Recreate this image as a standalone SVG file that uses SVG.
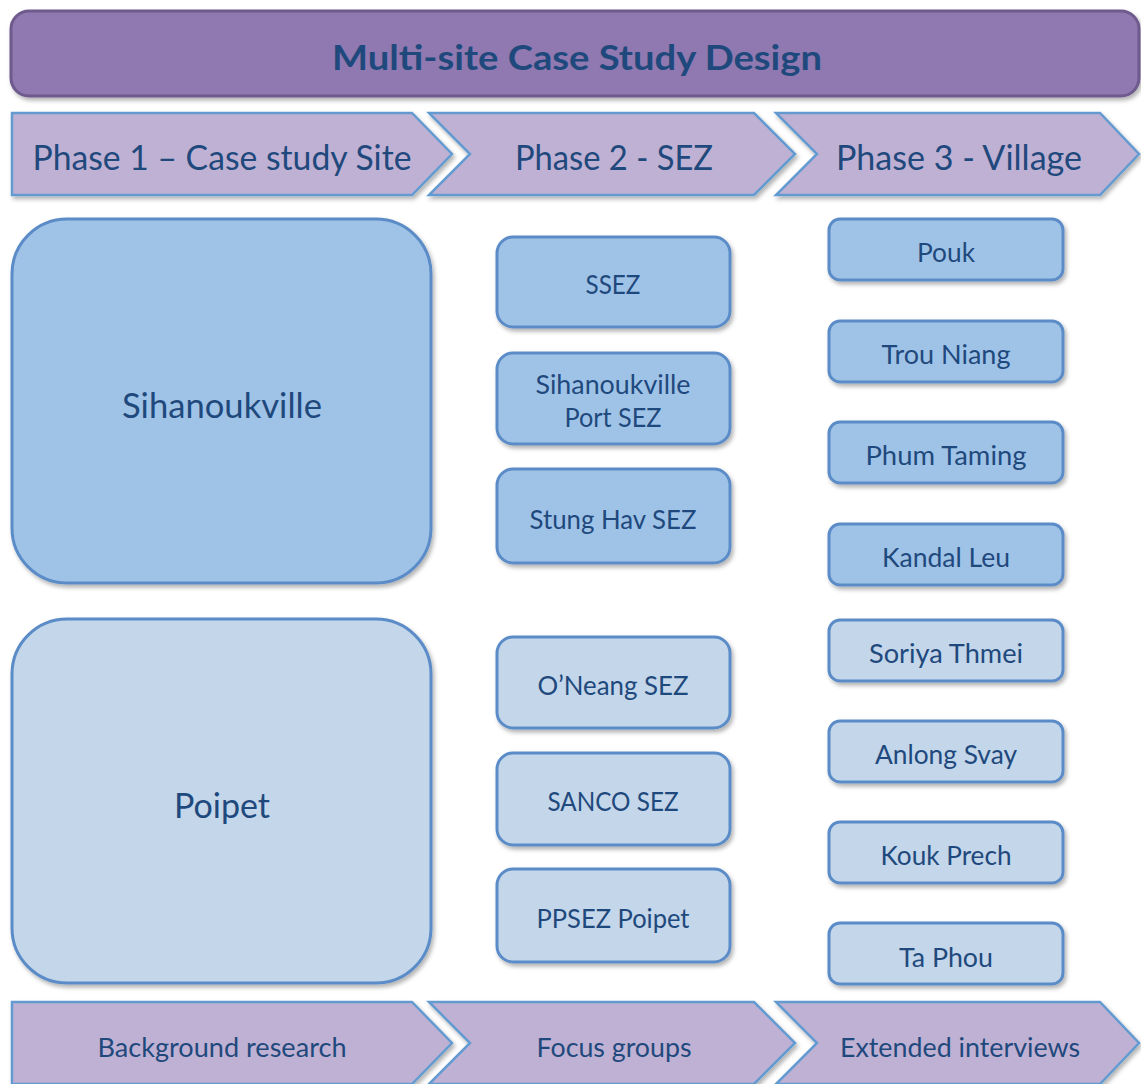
<svg xmlns="http://www.w3.org/2000/svg" width="1141" height="1084" viewBox="0 0 1141 1084">
<defs>
<filter id="sh" x="-10%" y="-10%" width="125%" height="130%">
<feDropShadow dx="2" dy="3" stdDeviation="2" flood-color="#000" flood-opacity="0.3"/>
</filter>
<style>
.t{font-family:Lato,"Open Sans","Liberation Sans",sans-serif;fill:#1F497D;text-anchor:middle}
.title{font-size:34px;font-weight:bold}
.big{font-size:34px}
.sm{font-size:26.5px}
.chev{fill:#BFB1D3;stroke:#649BD1;stroke-width:2.5;filter:url(#sh)}
.dk{fill:#9FC3E7;stroke:#5B8CC7;stroke-width:3;filter:url(#sh)}
.lt{fill:#C3D6EA;stroke:#5B8CC7;stroke-width:3;filter:url(#sh)}
</style>
</defs>
<rect width="1141" height="1084" fill="#FFFFFF"/>

<g id="title">
<rect x="11" y="11" width="1128" height="85" rx="18" fill="#8F79B0" stroke="#6E5A8C" stroke-width="3" filter="url(#sh)"/>
<text class="t title" x="577" y="70" textLength="490" lengthAdjust="spacingAndGlyphs">Multi-site Case Study Design</text>
</g>

<g id="phase1">
<path class="chev" d="M12,113 L412,113 L452,154 L412,195 L12,195 Z"/>
<text class="t big" x="222" y="170" textLength="379" lengthAdjust="spacingAndGlyphs">Phase 1 – Case study Site</text>
</g>
<g id="phase2">
<path class="chev" d="M429,113 L754,113 L795,154 L754,195 L429,195 L470,154 Z"/>
<text class="t big" x="614" y="170" textLength="198" lengthAdjust="spacingAndGlyphs">Phase 2 - SEZ</text>
</g>
<g id="phase3">
<path class="chev" d="M776,113 L1100,113 L1139,154 L1100,195 L776,195 L817,154 Z"/>
<text class="t big" x="959" y="170" textLength="246" lengthAdjust="spacingAndGlyphs">Phase 3 - Village</text>
</g>

<g id="sihanoukville">
<rect class="dk" x="12" y="219" width="419" height="364" rx="55"/>
<text class="t big" x="222" y="418" textLength="200" lengthAdjust="spacingAndGlyphs">Sihanoukville</text>
</g>
<g id="poipet">
<rect class="lt" x="12" y="619" width="419" height="364" rx="55"/>
<text class="t big" x="222" y="818" textLength="96" lengthAdjust="spacingAndGlyphs">Poipet</text>
</g>

<g id="ssez">
<rect class="dk" x="497" y="237" width="233" height="90" rx="16"/>
<text class="t sm" x="613" y="294" textLength="55" lengthAdjust="spacingAndGlyphs">SSEZ</text>
</g>
<g id="port-sez">
<rect class="dk" x="497" y="353" width="233" height="91" rx="16"/>
<text class="t sm" x="613" y="394" textLength="155" lengthAdjust="spacingAndGlyphs">Sihanoukville</text>
<text class="t sm" x="613" y="427" textLength="97" lengthAdjust="spacingAndGlyphs">Port SEZ</text>
</g>
<g id="stung-hav">
<rect class="dk" x="497" y="469" width="233" height="94" rx="16"/>
<text class="t sm" x="613" y="529" textLength="167" lengthAdjust="spacingAndGlyphs">Stung Hav SEZ</text>
</g>
<g id="oneang">
<rect class="lt" x="497" y="637" width="233" height="91" rx="16"/>
<text class="t sm" x="613" y="695" textLength="151" lengthAdjust="spacingAndGlyphs">O’Neang SEZ</text>
</g>
<g id="sanco">
<rect class="lt" x="497" y="753" width="233" height="92" rx="16"/>
<text class="t sm" x="613" y="811" textLength="131" lengthAdjust="spacingAndGlyphs">SANCO SEZ</text>
</g>
<g id="ppsez">
<rect class="lt" x="497" y="869" width="233" height="93" rx="16"/>
<text class="t sm" x="613" y="928" textLength="153" lengthAdjust="spacingAndGlyphs">PPSEZ Poipet</text>
</g>

<g id="pouk">
<rect class="dk" x="829" y="219" width="234" height="61" rx="11"/>
<text class="t sm" x="946" y="262" textLength="58" lengthAdjust="spacingAndGlyphs">Pouk</text>
</g>
<g id="trou-niang">
<rect class="dk" x="829" y="321" width="234" height="61" rx="11"/>
<text class="t sm" x="946" y="364" textLength="129" lengthAdjust="spacingAndGlyphs">Trou Niang</text>
</g>
<g id="phum-taming">
<rect class="dk" x="829" y="422" width="234" height="61" rx="11"/>
<text class="t sm" x="946" y="465" textLength="161" lengthAdjust="spacingAndGlyphs">Phum Taming</text>
</g>
<g id="kandal-leu">
<rect class="dk" x="829" y="524" width="234" height="61" rx="11"/>
<text class="t sm" x="946" y="567" textLength="128" lengthAdjust="spacingAndGlyphs">Kandal Leu</text>
</g>
<g id="soriya-thmei">
<rect class="lt" x="829" y="620" width="234" height="61" rx="11"/>
<text class="t sm" x="946" y="663" textLength="154" lengthAdjust="spacingAndGlyphs">Soriya Thmei</text>
</g>
<g id="anlong-svay">
<rect class="lt" x="829" y="721" width="234" height="61" rx="11"/>
<text class="t sm" x="946" y="764" textLength="142" lengthAdjust="spacingAndGlyphs">Anlong Svay</text>
</g>
<g id="kouk-prech">
<rect class="lt" x="829" y="822" width="234" height="61" rx="11"/>
<text class="t sm" x="946" y="865" textLength="131" lengthAdjust="spacingAndGlyphs">Kouk Prech</text>
</g>
<g id="ta-phou">
<rect class="lt" x="829" y="923" width="234" height="61" rx="11"/>
<text class="t sm" x="946" y="967" textLength="94" lengthAdjust="spacingAndGlyphs">Ta Phou</text>
</g>

<g id="background-research">
<path class="chev" d="M12,1002 L412,1002 L452,1043 L412,1084 L12,1084 Z"/>
<text class="t sm" x="222" y="1057" textLength="249" lengthAdjust="spacingAndGlyphs">Background research</text>
</g>
<g id="focus-groups">
<path class="chev" d="M429,1002 L754,1002 L795,1043 L754,1084 L429,1084 L470,1043 Z"/>
<text class="t sm" x="614" y="1057" textLength="155" lengthAdjust="spacingAndGlyphs">Focus groups</text>
</g>
<g id="extended-interviews">
<path class="chev" d="M776,1002 L1100,1002 L1139,1043 L1100,1084 L776,1084 L817,1043 Z"/>
<text class="t sm" x="960" y="1057" textLength="240" lengthAdjust="spacingAndGlyphs">Extended interviews</text>
</g>

<g id="connectors"/>
</svg>
